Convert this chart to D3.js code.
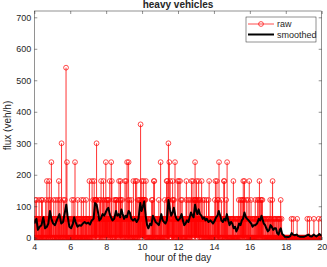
<!DOCTYPE html>
<html>
<head>
<meta charset="utf-8">
<script src="https://cdn.jsdelivr.net/npm/d3@7"></script>
<style>
  body { margin: 0; background: #fff; }
  svg { display: block; }
  text { font-family: "Liberation Sans", Arial, sans-serif; fill: #262626; }
</style>
</head>
<body>
<svg id="chart"></svg>
<script>
// raw flux, one sample per minute from 4:00 to 20:00 (veh/h)
var flux = [
  // 4h
  60,0,60,120,0,60,0,120,60,0, 0,60,0,0,60,0,120,0,60,0, 60,0,60,0,120,60,0,120,60,0,
  60,60,0,0,60,0,0,60,120,0, 0,60,180,0,60,0,60,120,0,60, 180,60,0,60,120,0,60,240,60,0,
  // 5h
  60,0,0,60,0,120,60,0,0,60, 0,60,120,0,60,0,0,60,0,120, 60,0,180,60,0,60,120,0,60,0,
  0,300,60,0,60,0,0,120,60,0, 60,0,120,60,0,60,540,0,60,240, 60,0,60,0,0,60,0,0,60,0,
  // 6h
  0,60,0,0,60,0,120,0,60,0, 0,60,120,0,60,60,240,0,60,0, 0,0,60,0,60,120,0,0,60,0,
  60,0,0,60,0,60,0,120,60,0, 0,60,0,60,120,0,0,60,0,60, 0,60,0,120,60,0,60,0,0,60,
  // 7h
  60,0,60,0,180,0,60,0,60,0, 0,60,60,180,0,60,120,0,60,0, 180,60,120,60,120,120,60,120,300,120,
  60,0,60,0,60,0,60,120,60,0, 60,120,0,180,60,0,60,60,120,0, 60,180,0,60,120,60,0,60,60,240,
  // 8h
  60,120,60,0,120,60,60,120,0,60, 120,60,180,0,60,60,0,240,60,180, 0,60,0,60,0,60,120,0,60,0,
  60,120,60,120,0,120,60,60,0,60, 60,0,120,180,60,60,0,120,180,60, 120,60,60,0,120,60,0,60,0,60,
  // 9h
  60,0,60,180,0,60,0,180,60,0, 240,60,0,120,60,240,60,0,120,60, 60,0,60,0,60,120,0,60,0,60,
  0,180,60,0,60,0,60,0,180,0, 60,0,180,60,0,60,120,0,60,60, 120,60,0,120,60,360,60,120,0,180,
  // 10h
  120,60,120,60,120,180,60,120,60,120, 60,120,0,180,60,0,0,0,0,60, 0,0,0,60,0,0,0,60,0,0,
  60,0,120,0,60,120,60,60,0,180, 60,180,0,60,0,60,0,0,60,0, 0,60,0,0,60,0,120,0,60,0,
  // 11h
  60,0,240,60,0,60,0,60,0,0, 60,0,60,0,60,0,120,0,60,0, 60,0,180,60,180,60,120,120,300,120,
  60,240,0,60,180,0,60,0,60,0, 60,120,180,60,120,60,0,120,60,0, 240,60,0,60,0,60,0,60,0,180,
  // 12h
  60,0,60,180,0,60,0,180,60,0, 120,60,0,60,120,0,60,0,0,60, 0,0,60,0,60,0,60,120,180,0,
  60,0,60,0,120,60,0,60,0,60, 120,60,0,60,60,180,60,120,0,60, 180,60,0,120,60,60,120,240,120,60,
  // 13h
  120,60,180,60,120,0,60,120,60,180, 60,120,0,60,120,60,0,60,0,180, 60,0,60,120,0,60,60,0,120,0,
  60,0,60,60,0,120,0,60,0,60, 0,60,120,0,180,0,60,0,60,0, 60,0,0,60,0,60,0,0,60,0,
  // 14h
  60,0,60,120,0,180,60,0,60,0, 180,60,120,0,60,120,60,240,60,0, 60,0,0,60,0,120,0,60,0,60,
  0,60,0,180,60,180,0,60,0,60, 60,120,0,60,240,60,0,0,60,0, 0,60,0,0,60,0,0,60,0,0,
  // 15h
  60,0,60,0,60,180,0,0,60,0, 0,0,60,0,0,0,60,0,0,60, 0,60,0,120,0,60,0,60,0,120,
  60,0,60,120,0,60,60,120,180,60, 120,0,180,60,0,60,60,0,120,0, 60,0,0,60,120,0,60,0,180,0,
  // 16h
  60,0,60,0,120,0,0,60,0,0, 60,0,0,60,0,0,60,0,120,0, 60,0,60,0,60,0,120,60,0,60,
  120,0,180,60,0,60,120,0,60,120, 60,0,120,60,0,0,60,0,60,0, 0,0,60,0,0,60,0,0,0,60,
  // 17h
  0,0,60,0,0,60,0,0,120,0, 60,0,0,60,0,120,180,0,0,60, 0,0,60,0,0,60,0,0,0,60,
  0,0,0,60,0,0,60,0,60,0, 0,60,0,120,0,0,60,0,0,0, 0,0,0,0,0,0,0,0,0,0,
  // 18h
  0,0,0,0,0,0,0,0,0,0, 0,0,0,0,0,0,0,0,0,60, 0,0,0,0,0,60,0,0,0,0,
  0,0,0,0,0,0,0,0,60,0, 0,0,0,0,0,0,0,0,0,0, 0,0,0,0,0,0,0,0,0,0,
  // 19h
  0,0,0,0,0,0,0,0,0,0, 0,0,60,0,0,0,0,0,0,60, 0,0,0,0,0,0,0,0,0,0,
  0,0,0,0,60,0,0,0,0,0, 0,0,0,0,0,0,0,0,0,0, 60,0,0,0,0,0,0,0,0,0,
  // 20h
  60
];

// smoothed curve
var smoothHours = [4.00,4.07,4.12,4.20,4.30,4.40,4.50,4.60,4.70,4.78,4.87,4.95,5.05,5.15,5.25,5.40,5.50,5.60,5.70,5.78,
  5.85,5.95,6.05,6.15,6.22,6.30,6.40,6.50,6.60,6.70,6.80,6.90,7.00,7.10,7.20,7.30,7.38,7.47,7.55,7.62,
  7.70,7.80,7.90,7.97,8.05,8.12,8.20,8.27,8.35,8.45,8.55,8.62,8.70,8.78,8.85,8.92,9.00,9.08,9.15,9.25,
  9.32,9.40,9.50,9.60,9.70,9.80,9.90,9.97,10.05,10.12,10.20,10.28,10.35,10.45,10.52,10.60,10.68,10.75,10.85,10.93,
  11.00,11.07,11.15,11.22,11.30,11.38,11.47,11.55,11.62,11.70,11.77,11.85,11.92,12.00,12.10,12.20,12.27,12.35,12.42,12.50,
  12.58,12.65,12.72,12.80,12.87,12.95,13.02,13.08,13.15,13.22,13.30,13.38,13.45,13.53,13.60,13.70,13.80,13.88,13.95,14.05,
  14.12,14.20,14.27,14.35,14.42,14.50,14.57,14.65,14.72,14.80,14.87,14.95,15.02,15.10,15.18,15.25,15.33,15.40,15.48,15.55,
  15.62,15.70,15.78,15.85,15.93,16.00,16.08,16.15,16.22,16.30,16.40,16.50,16.57,16.65,16.72,16.78,16.85,16.92,17.00,17.08,
  17.15,17.22,17.30,17.38,17.45,17.52,17.60,17.67,17.72,17.80,17.88,17.95,18.05,18.15,18.25,18.33,18.40,18.50,18.60,18.70,
  18.80,18.90,19.00,19.10,19.20,19.27,19.35,19.45,19.55,19.62,19.70,19.80,19.87,19.93,20.00];
var smoothFlux = [45,55,60,25,35,40,65,30,35,45,85,60,45,40,55,75,45,50,80,105,
  70,35,30,45,65,50,35,40,38,45,50,45,48,42,55,60,110,105,80,55,
  60,75,70,80,90,95,75,65,55,60,85,70,75,65,90,75,60,70,65,85,
  80,60,55,60,50,60,110,85,100,115,70,40,30,45,40,70,60,50,45,40,
  55,75,55,50,45,55,120,90,70,80,95,70,60,55,60,75,55,40,45,55,
  50,65,80,70,65,105,85,75,90,75,70,60,65,55,60,50,55,50,45,55,
  65,70,85,70,55,50,60,55,75,55,40,50,45,30,35,20,30,45,40,55,
  60,80,65,60,55,50,45,35,40,40,45,60,55,70,55,45,40,30,20,25,
  40,35,25,30,30,15,10,25,30,12,8,3,2,2,5,15,10,8,10,5,
  3,3,3,5,8,10,5,4,10,7,4,8,12,8,8];

var xTicks = [4,6,8,10,12,14,16,18,20];
var yTicks = [0,100,200,300,400,500,600,700];

var svgWidth = 327, svgHeight = 267;
var plotLeft = 34.3, plotRight = 321.7, plotTop = 11, plotBottom = 240;

var svg = d3.select('#chart')
    .attr('width', svgWidth)
    .attr('height', svgHeight);

var x = d3.scaleLinear().domain([4, 20]).range([plotLeft, plotRight]);
var y = d3.scaleLinear().domain([-7.2, 720]).range([plotBottom, plotTop]);

var raw = flux.map(function(d, i) { return { h: 4 + i / 60, v: d }; });
var smooth = smoothHours.map(function(h, i) { return { h: h, v: smoothFlux[i] }; });

svg.append('defs').append('clipPath').attr('id', 'clip')
  .append('rect').attr('x', plotLeft).attr('y', plotTop)
  .attr('width', plotRight - plotLeft).attr('height', plotBottom - plotTop);

var plot = svg.append('g').attr('clip-path', 'url(#clip)');

// stems
plot.selectAll('line.stem')
    .data(raw.filter(function(d) { return d.v > 0; }))
    .enter()
    .append('line')
    .attr('class', 'stem')
    .attr('x1', function(d) { return x(d.h); })
    .attr('x2', function(d) { return x(d.h); })
    .attr('y1', y(0))
    .attr('y2', function(d) { return y(d.v); })
    .attr('stroke', '#ff0000')
    .attr('stroke-width', 0.8);

// markers
plot.selectAll('circle.mk')
    .data(raw)
    .enter()
    .append('circle')
    .attr('class', 'mk')
    .attr('cx', function(d) { return x(d.h); })
    .attr('cy', function(d) { return y(d.v); })
    .attr('r', 2.4)
    .attr('fill', 'none')
    .attr('stroke', '#ff0000')
    .attr('stroke-width', 0.7);

// smoothed line
plot.append('path')
    .datum(smooth)
    .attr('fill', 'none')
    .attr('stroke', '#000')
    .attr('stroke-width', 2)
    .attr('stroke-linejoin', 'round')
    .attr('d', d3.line()
      .x(function(d) { return x(d.h); })
      .y(function(d) { return y(d.v); }));

// axes (matlab style, ticks inside, box on)
function styleAxis(g) {
  g.select('.domain').remove();
  g.selectAll('.tick line').attr('stroke', '#262626').attr('stroke-width', 0.5);
  g.selectAll('.tick text').style('font-size', '9px').attr('fill', '#262626');
}

svg.append('g').attr('transform', 'translate(0,' + plotBottom + ')')
  .call(d3.axisBottom(x).tickValues(xTicks).tickSizeInner(-3).tickSizeOuter(0).tickPadding(3.5))
  .call(styleAxis);
svg.append('g').attr('transform', 'translate(0,' + plotTop + ')')
  .call(d3.axisTop(x).tickValues(xTicks).tickSizeInner(-3).tickSizeOuter(0).tickFormat(''))
  .call(styleAxis);
svg.append('g').attr('transform', 'translate(' + plotLeft + ',0)')
  .call(d3.axisLeft(y).tickValues(yTicks).tickSizeInner(-3).tickSizeOuter(0).tickPadding(3))
  .call(styleAxis);
svg.append('g').attr('transform', 'translate(' + plotRight + ',0)')
  .call(d3.axisRight(y).tickValues(yTicks).tickSizeInner(-3).tickSizeOuter(0).tickFormat(''))
  .call(styleAxis);

svg.append('rect')
    .attr('x', plotLeft).attr('y', plotTop)
    .attr('width', plotRight - plotLeft).attr('height', plotBottom - plotTop)
    .attr('fill', 'none')
    .attr('stroke', '#262626')
    .attr('stroke-width', 0.5);

// title and labels
svg.append('text')
    .attr('x', (plotLeft + plotRight) / 2).attr('y', 8)
    .attr('text-anchor', 'middle')
    .style('font-size', '10px').style('font-weight', 'bold')
    .attr('fill', '#000')
    .text('heavy vehicles');

svg.append('text')
    .attr('x', (plotLeft + plotRight) / 2).attr('y', 261)
    .attr('text-anchor', 'middle')
    .style('font-size', '10px')
    .text('hour of the day');

svg.append('text')
    .attr('transform', 'translate(11,' + (plotTop + plotBottom) / 2 + ') rotate(-90)')
    .attr('text-anchor', 'middle')
    .style('font-size', '10px')
    .text('flux (veh/h)');

// legend
var lg = svg.append('g');
lg.append('rect')
    .attr('x', 246).attr('y', 17).attr('width', 70).attr('height', 25)
    .attr('fill', '#fff')
    .attr('stroke', '#262626')
    .attr('stroke-width', 0.5);
lg.append('line')
    .attr('x1', 248).attr('x2', 274).attr('y1', 24).attr('y2', 24)
    .attr('stroke', '#ff0000').attr('stroke-width', 0.7);
lg.append('circle')
    .attr('cx', 261).attr('cy', 24).attr('r', 2.4)
    .attr('fill', 'none').attr('stroke', '#ff0000').attr('stroke-width', 0.7);
lg.append('line')
    .attr('x1', 248).attr('x2', 274).attr('y1', 34.5).attr('y2', 34.5)
    .attr('stroke', '#000').attr('stroke-width', 2);
lg.append('text')
    .attr('x', 277).attr('y', 27)
    .style('font-size', '9px')
    .attr('fill', '#000')
    .text('raw');
lg.append('text')
    .attr('x', 277).attr('y', 37.5)
    .style('font-size', '9px')
    .attr('fill', '#000')
    .text('smoothed');
</script>
</body>
</html>
